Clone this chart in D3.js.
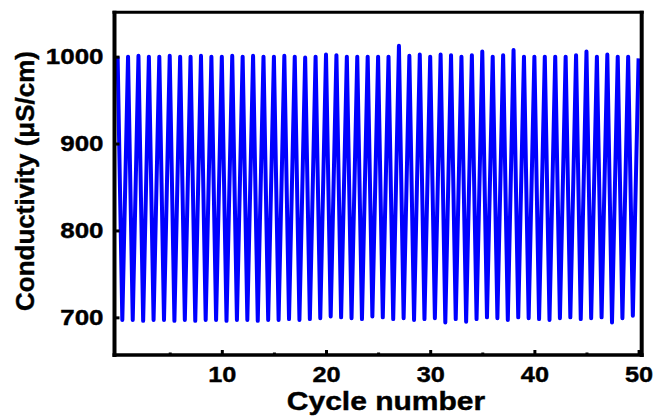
<!DOCTYPE html>
<html>
<head>
<meta charset="utf-8">
<script src="https://cdn.jsdelivr.net/npm/d3@7"></script>
<style>
  body { margin: 0; background: #fff; }
  text { font-family: "Liberation Sans", Arial, sans-serif; font-weight: bold; fill: #000; }
</style>
</head>
<body>
<div id="chart"></div>
<script>
let width = 657;
let height = 418;
let margin = ({top: 12.3, right: 15.3, bottom: 63, left: 114.5});

// peak conductivity for cycle 0..50
let peakValues = [1000, 1000, 1001, 1000, 1000, 1001, 1000, 1000, 1001, 1000, 1000,
                  1001, 1000, 1001, 1000, 1000, 1001, 1000, 999, 1000, 1002.5,
                  1001.7, 1000, 1000, 1000, 1000, 1000, 1012.5, 1001, 1002.5, 1000,
                  1002.5, 1001.7, 1000, 1001.7, 1006, 1000, 1001.7, 1007.5, 1000, 1000,
                  1000, 1000, 1000, 1001.7, 1006, 1000, 1002.5, 1000, 1000, 998];
// trough conductivity between peak i and peak i+1
let troughValues = [697, 697, 696, 697, 697, 696, 697, 696, 697, 697,
                    696, 697, 697, 696, 697, 697, 698, 697, 698, 699,
                    701, 700, 699, 698, 701, 700, 698, 699, 697, 698,
                    699, 694, 698, 695, 698, 700, 699, 697, 700, 699,
                    698, 697, 699, 700, 698, 699, 700, 694, 699, 702];
let troughOffset = 0.45;  // where the trough sits inside a cycle

let yTicks = [700, 800, 900, 1000];
let xTicks = [10, 20, 30, 40, 50];
let xMinorTicks = [5, 15, 25, 35, 45];

// build the series from peaks and troughs
let data = [];
peakValues.forEach((v, i) => {
    data.push({cycle: i, value: v});
    if (i < troughValues.length) data.push({cycle: i + troughOffset, value: troughValues[i]});
});

let svg = d3.select("#chart")
    .append("svg")
    .attr("width", width)
    .attr("height", height);

let xScale = d3.scaleLinear()
    .domain([-0.3, 50.3])
    .range([margin.left, width - margin.right]);

let yScale = d3.scaleLinear()
    .domain([656.7, 1051])
    .range([height - margin.bottom, margin.top]);

let line = d3.line()
    .x(d => xScale(d.cycle))
    .y(d => yScale(d.value));

svg.append("path")
    .datum(data)
    .attr("fill", "none")
    .attr("stroke", "#0000ff")
    .attr("stroke-width", 4)
    .attr("stroke-linejoin", "round")
    .attr("d", line);

// y axis, ticks pointing inward
let yAxis = svg.append("g")
    .attr("transform", "translate(" + margin.left + ",0)")
    .call(d3.axisLeft(yScale).tickValues(yTicks).tickSize(-5).tickFormat(d3.format("d")));
yAxis.select(".domain").remove();
yAxis.selectAll("line").attr("stroke-width", 3);
yAxis.selectAll("text")
    .attr("x", null)
    .attr("font-size", 22)
    .attr("stroke", "#000")
    .attr("stroke-width", 0.4)
    .attr("transform", "translate(-11,0) scale(1.18,1)");

// x axis
let xAxis = svg.append("g")
    .attr("transform", "translate(0," + (height - margin.bottom) + ")")
    .call(d3.axisBottom(xScale).tickValues(xTicks).tickSize(-5));
xAxis.select(".domain").remove();
xAxis.selectAll("line").attr("stroke-width", 3);
xAxis.selectAll("text")
    .attr("y", null)
    .attr("dy", null)
    .attr("font-size", 22)
    .attr("stroke", "#000")
    .attr("stroke-width", 0.4)
    .attr("transform", "translate(0,27) scale(1.15,1)");

let xMinor = svg.append("g")
    .attr("transform", "translate(0," + (height - margin.bottom) + ")")
    .call(d3.axisBottom(xScale).tickValues(xMinorTicks).tickSize(-2.5).tickFormat(""));
xMinor.select(".domain").remove();
xMinor.selectAll("line").attr("stroke-width", 3);

// frame
let x0 = margin.left, x1 = width - margin.right;
let y0 = margin.top, y1 = height - margin.bottom;
let frame = [
    {x1: x0, y1: y0 - 1.5, x2: x0, y2: y1 + 2, w: 4},
    {x1: x0 - 2, y1: y1, x2: x1 + 2, y2: y1, w: 3.5},
    {x1: x1, y1: y0 - 1.5, x2: x1, y2: y1 + 2, w: 4},
    {x1: x0 - 2, y1: y0, x2: x1 + 2, y2: y0, w: 3}
];
svg.selectAll(".frame")
    .data(frame)
    .enter()
    .append("line")
    .attr("class", "frame")
    .attr("x1", d => d.x1).attr("y1", d => d.y1)
    .attr("x2", d => d.x2).attr("y2", d => d.y2)
    .attr("stroke", "#000")
    .attr("stroke-width", d => d.w);

// axis titles
svg.append("text")
    .attr("transform", "translate(386,410) scale(1.2,1)")
    .attr("text-anchor", "middle")
    .attr("font-size", 25)
    .attr("stroke", "#000")
    .attr("stroke-width", 0.4)
    .text("Cycle number");

svg.append("text")
    .attr("transform", "translate(34,181) rotate(-90)")
    .attr("text-anchor", "middle")
    .attr("font-size", 26)
    .attr("stroke", "#000")
    .attr("stroke-width", 0.4)
    .text("Conductivity (μS/cm)");
</script>
</body>
</html>
